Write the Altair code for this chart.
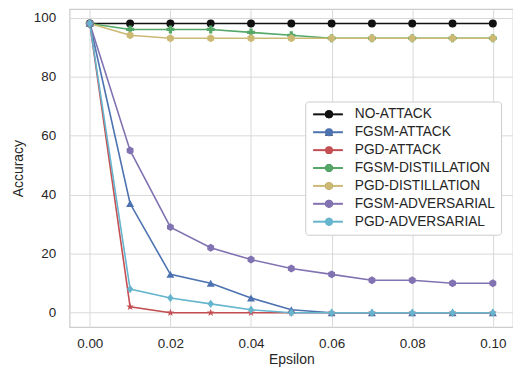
import altair as alt
import pandas as pd

eps = [0.00, 0.01, 0.02, 0.03, 0.04, 0.05, 0.06, 0.07, 0.08, 0.09, 0.10]
series_names = ["NO-ATTACK", "FGSM-ATTACK", "PGD-ATTACK", "FGSM-DISTILLATION",
                "PGD-DISTILLATION", "FGSM-ADVERSARIAL", "PGD-ADVERSARIAL"]
no_attack = [98, 98, 98, 98, 98, 98, 98, 98, 98, 98, 98]
fgsm_attack = [98, 37, 13, 10, 5, 1, 0, 0, 0, 0, 0]
pgd_attack = [98, 2, 0, 0, 0, 0, 0, 0, 0, 0, 0]
fgsm_dist = [98, 96, 96, 96, 95, 94, 93, 93, 93, 93, 93]
pgd_dist = [98, 94, 93, 93, 93, 93, 93, 93, 93, 93, 93]
fgsm_adv = [98, 55, 29, 22, 18, 15, 13, 11, 11, 10, 10]
pgd_adv = [98, 8, 5, 3, 1, 0, 0, 0, 0, 0, 0]
series_values = [no_attack, fgsm_attack, pgd_attack, fgsm_dist, pgd_dist, fgsm_adv, pgd_adv]

colors = ["#111111", "#4C72B0", "#C44E52", "#55A868", "#CCB974", "#8172B2", "#64B5CD"]
hexagon = "M0,-1L0.866,-0.5L0.866,0.5L0,1L-0.866,0.5L-0.866,-0.5Z"
thin_diamond = "M0,-1.05L0.8,0L0,1.05L-0.8,0Z"
star = ("M0,-1L0.235,-0.324L0.951,-0.309L0.38,0.124L0.588,0.809L0,0.4"
        "L-0.588,0.809L-0.38,0.124L-0.951,-0.309L-0.235,-0.324Z")
shapes = ["circle", "triangle-up", star, "cross", hexagon, hexagon, thin_diamond]

x_ticks = [0.0, 0.02, 0.04, 0.06, 0.08, 0.10]
y_ticks = [0, 20, 40, 60, 80, 100]

rows = []
for name, vals in zip(series_names, series_values):
    for e, v in zip(eps, vals):
        rows.append({"Epsilon": e, "Accuracy": v, "series": name, "series_pt": name})
df = pd.DataFrame(rows)

TXT = "#262626"
FONT = "Liberation Sans"

x = alt.X("Epsilon:Q",
          scale=alt.Scale(domain=[-0.005, 0.105], nice=False, zero=False),
          axis=alt.Axis(values=x_ticks, format=".2f", title="Epsilon"))
y = alt.Y("Accuracy:Q",
          scale=alt.Scale(domain=[-4.9, 102.9], nice=False, zero=False),
          axis=alt.Axis(values=y_ticks, title="Accuracy"))

LX, LY = 237, 93

legend_line = alt.Legend(
    orient="none", legendX=LX, legendY=LY, title=None,
    symbolType="M-3,0H3", symbolSize=100, symbolStrokeWidth=2,
    symbolOffset=10, labelOffset=20, padding=6, rowPadding=3,
    labelFontSize=13.8, labelFont=FONT, labelColor=TXT,
    fillColor="white", strokeColor="#cccccc", cornerRadius=3,
)
legend_pts = alt.Legend(
    orient="none", legendX=LX, legendY=LY, title=None,
    symbolSize=64, symbolStrokeWidth=0, symbolOffset=11, labelOffset=20,
    padding=6, rowPadding=3,
    labelFontSize=13.8, labelFont=FONT, labelColor="transparent",
)

base = alt.Chart(df)
lines = base.mark_line(strokeWidth=1.6).encode(
    x=x, y=y,
    color=alt.Color("series:N", scale=alt.Scale(domain=series_names, range=colors),
                    legend=legend_line),
)
points = base.mark_point(filled=True, size=64, opacity=1, strokeWidth=0).encode(
    x=x, y=y,
    fill=alt.Fill("series_pt:N", sort=series_names,
                  scale=alt.Scale(range=colors), legend=legend_pts),
    shape=alt.Shape("series_pt:N", sort=series_names,
                    scale=alt.Scale(range=shapes), legend=legend_pts),
)

chart = alt.layer(lines, points).properties(
    width=446, height=320,
    padding={"left": 3, "top": 0, "right": 0, "bottom": 0},
    background="white",
).configure_view(
    stroke="#cccccc", strokeWidth=1.25
).configure_axis(
    grid=True, gridColor="#d9d9d9", gridWidth=1, domain=False, ticks=False,
    labelFont=FONT, labelFontSize=13.5, labelColor=TXT,
    titleFont=FONT, titleFontSize=14, titleColor=TXT, titleFontWeight="normal",
).configure_axisX(
    labelPadding=9, titlePadding=3,
).configure_axisY(
    labelPadding=14, titlePadding=8,
)

chart.save("out.html", embed_options={"renderer": "svg", "actions": False})
